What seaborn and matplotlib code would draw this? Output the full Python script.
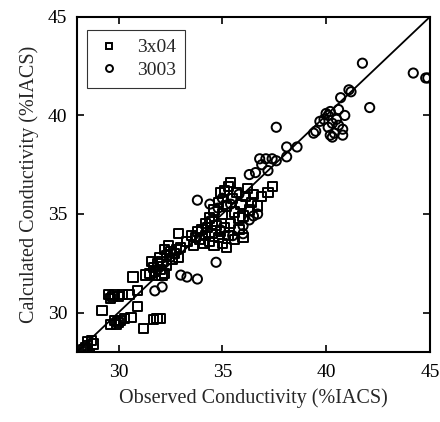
import numpy as np
import pandas as pd
import matplotlib
matplotlib.use("Agg")
import matplotlib.pyplot as plt
from matplotlib.lines import Line2D
import seaborn as sns

# 3x04 alloy (squares): observed, calculated
sq_obs = [28.3, 28.5, 28.6, 28.8, 28.7, 28.5, 28.4,
          29.5, 29.6, 29.8, 30.0, 30.2, 30.5, 29.7, 29.2,
          29.6, 29.8, 30.0, 30.1, 30.3, 29.9,
          30.6, 31.2, 31.7, 31.85, 32.0, 30.9, 30.9, 30.7, 31.3,
          31.5, 31.7, 31.8, 32.0, 32.1, 31.9, 32.2, 31.6, 32.0, 32.3, 31.8, 32.1,
          32.3, 32.5, 32.6, 32.8, 32.4, 32.7, 33.0, 32.9, 32.2, 32.9,
          33.3, 33.5, 33.6, 33.8, 33.9, 34.0, 34.1, 34.2, 34.3, 34.4, 34.5, 34.6,
          34.7, 34.8, 34.9, 35.0, 35.1, 35.3, 35.4, 35.6, 35.8, 36.0, 33.7, 34.2,
          35.2, 34.4, 34.5,
          34.6, 34.8, 35.0, 35.1, 35.2, 35.3, 35.5, 35.6, 35.7, 35.9, 36.0, 36.1,
          36.2, 36.4, 36.5, 36.7, 36.9, 37.2, 37.4, 35.4, 34.9, 35.8, 36.3]
sq_calc = [28.1, 28.3, 27.9, 28.4, 28.6, 28.5, 28.2,
           30.9, 30.7, 30.9, 30.8, 30.9, 30.9, 30.8, 30.1,
           29.4, 29.6, 29.5, 29.6, 29.7, 29.4,
           29.75, 29.2, 29.65, 29.7, 29.7, 30.3, 31.1, 31.8, 31.9,
           32.0, 32.3, 31.9, 32.2, 32.6, 32.5, 32.0, 32.6, 32.8, 32.4, 32.1, 31.9,
           32.9, 33.1, 32.7, 33.2, 33.4, 33.0, 33.3, 32.8, 33.2, 34.0,
           33.6, 33.9, 33.4, 34.1, 33.7, 34.2, 33.5, 33.9, 34.3, 33.6, 34.0, 33.4,
           34.4, 33.8, 34.1, 33.5, 34.3, 33.9, 34.5, 33.7, 34.2, 33.8, 33.8, 34.5,
           33.3, 34.8, 34.6,
           35.2, 35.6, 35.0, 36.2, 35.4, 36.4, 35.8, 35.1, 36.1, 35.5, 34.9, 35.9,
           36.3, 35.6, 36.0, 35.4, 35.9, 36.1, 36.4, 36.6, 36.1, 34.8, 35.2]

# 3003 alloy (circles): observed, calculated
ci_obs = [31.75, 32.1, 33.0, 33.3, 33.8, 34.7, 33.8,
          34.9, 35.5, 36.0, 36.3, 36.5, 36.7, 34.4, 35.0, 35.4, 35.8, 34.8, 36.0,
          36.3, 36.6, 36.9, 37.1, 37.4, 37.6, 36.8, 37.2, 37.6, 38.1, 38.6, 38.1,
          39.4, 39.5,
          39.9, 40.1, 40.2, 40.0, 40.3, 40.5, 40.1, 39.7, 40.6, 40.9, 40.4, 40.8,
          40.2, 40.6, 40.3, 40.8,
          40.7, 41.1, 41.2, 42.1, 41.75, 44.2, 44.8, 44.9]
ci_calc = [31.1, 31.3, 31.9, 31.8, 31.7, 32.55, 35.7,
           34.2, 33.9, 34.4, 34.7, 34.9, 35.0, 35.5, 35.8, 35.5, 36.0, 35.3, 34.0,
           37.0, 37.1, 37.5, 37.8, 37.8, 37.7, 37.8, 37.2, 39.4, 38.4, 38.4, 37.9,
           39.1, 39.2,
           39.8, 40.0, 40.2, 40.1, 39.6, 39.8, 39.4, 39.7, 40.3, 40.0, 39.1, 39.3,
           39.0, 39.5, 38.9, 39.0,
           40.9, 41.3, 41.2, 40.4, 42.65, 42.15, 41.9, 41.9]

labels = ["3x04", "3003"]
x_ticks = [30, 35, 40, 45]
y_ticks = [30, 35, 40, 45]

df_sq = pd.DataFrame({"obs": sq_obs, "calc": sq_calc})
df_ci = pd.DataFrame({"obs": ci_obs, "calc": ci_calc})

sns.set_style("ticks")
plt.rcParams["font.family"] = ["Liberation Serif", "DejaVu Serif"]

fig = plt.figure(figsize=(4.40, 4.22), dpi=100)
ax = fig.add_axes([0.175, 0.166, 0.802, 0.794])

ax.plot([28, 45], [28, 45], color="black", lw=1.3, zorder=1)

sns.scatterplot(data=df_sq, x="obs", y="calc", ax=ax, marker="s", s=44,
                facecolors="none", edgecolors="black", linewidth=1.4, zorder=3)
sns.scatterplot(data=df_ci, x="obs", y="calc", ax=ax, marker="o", s=44,
                facecolors="none", edgecolors="black", linewidth=1.4, zorder=3)

ax.set_xlim(28, 45)
ax.set_ylim(28, 45)
ax.set_xticks(x_ticks)
ax.set_yticks(y_ticks)
ax.tick_params(direction="in", top=True, right=True, length=5, width=1.2,
               labelsize=14, colors="black")
ax.tick_params(axis="x", pad=9)
ax.tick_params(axis="y", pad=7)
for sp in ax.spines.values():
    sp.set_linewidth(1.5)
    sp.set_color("black")

ax.set_xlabel("Observed Conductivity (%IACS)", fontsize=14.5, labelpad=5)
ax.set_ylabel("Calculated Conductivity (%IACS)", fontsize=14.5, labelpad=6)

handles = [Line2D([], [], marker="s", ls="none", mfc="none", mec="black", ms=5, mew=1.4),
           Line2D([], [], marker="o", ls="none", mfc="none", mec="black", ms=5, mew=1.4)]
leg = ax.legend(handles, labels, loc="upper left", bbox_to_anchor=(0.028, 0.961),
                fontsize=14, frameon=True, fancybox=False, handletextpad=0.75,
                borderpad=0.45, labelspacing=0.25, handlelength=1.4,
                borderaxespad=0)
leg.get_frame().set_edgecolor("black")
leg.get_frame().set_linewidth(0.8)

fig.savefig("out.png", dpi=100)
